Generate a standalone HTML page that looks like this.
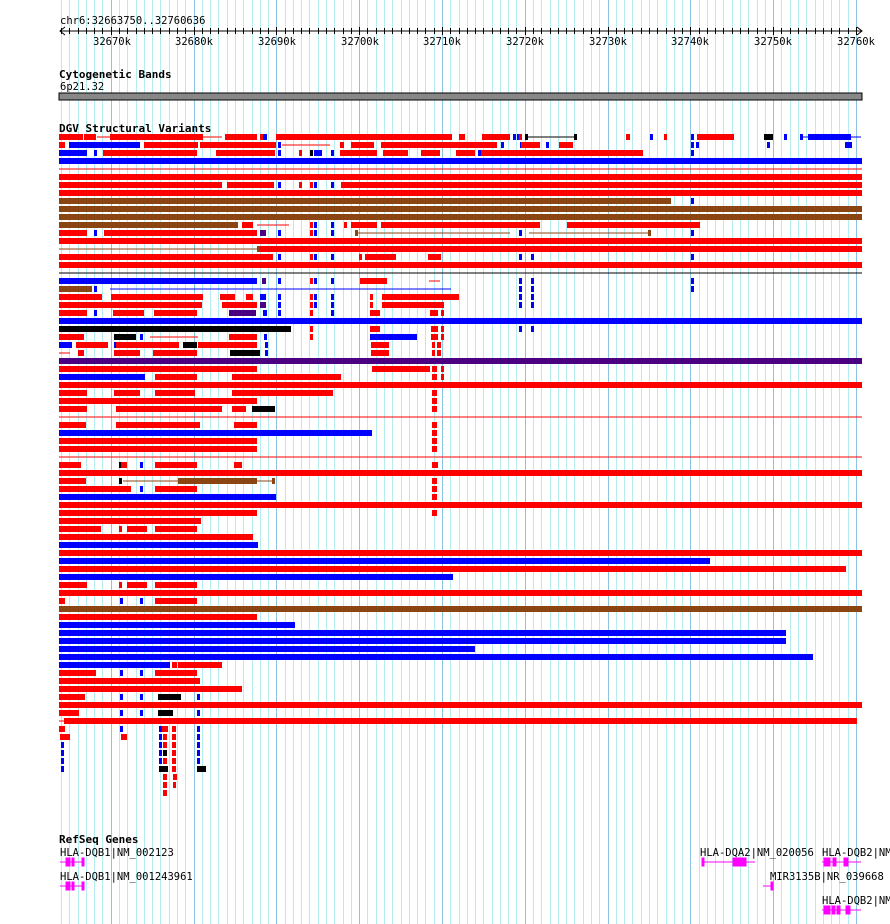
<!DOCTYPE html>
<html><head><meta charset="utf-8"><style>
html,body{margin:0;padding:0;background:#fff;}
svg{display:block;}
text{font-family:"DejaVu Sans Mono","Liberation Mono",monospace;font-size:10.5px;fill:#000;}
.b{font-weight:bold;font-size:11px;}
</style></head><body>
<svg id="s" width="890" height="924" xmlns="http://www.w3.org/2000/svg">
<g id="grid"></g>
<text x="60" y="24">chr6:32663750..32760636</text>
<line x1="60" y1="31" x2="862" y2="31" stroke="#000"/>
<polyline points="65,27 60,31 65,35" fill="none" stroke="#000"/>
<polyline points="857,27 862,31 857,35" fill="none" stroke="#000"/>
<g id="ticks"></g>
<text x="93" y="45">32670k</text><text x="175" y="45">32680k</text><text x="258" y="45">32690k</text><text x="341" y="45">32700k</text><text x="423" y="45">32710k</text><text x="506" y="45">32720k</text><text x="589" y="45">32730k</text><text x="671" y="45">32740k</text><text x="754" y="45">32750k</text><text x="837" y="45">32760k</text>
<text class="b" x="59" y="78">Cytogenetic Bands</text>
<text x="60" y="90">6p21.32</text>
<rect x="59" y="93" width="803" height="7" fill="#888" stroke="#000" stroke-width="1"/>
<text class="b" x="59" y="132">DGV Structural Variants</text>
<g id="sv"></g>
<text class="b" x="59" y="843">RefSeq Genes</text>
<text x="60" y="856">HLA-DQB1|NM_002123</text>
<text x="60" y="880">HLA-DQB1|NM_001243961</text>
<text x="700" y="856">HLA-DQA2|NM_020056</text>
<text x="822" y="856">HLA-DQB2|NM_</text>
<text x="770" y="880">MIR3135B|NR_039668</text>
<text x="822" y="904">HLA-DQB2|NM_</text>
<g fill="#f0f" stroke="#f0f">
<line x1="60" y1="862" x2="84" y2="862"/><rect x="66" y="858" width="4" height="8"/><rect x="72" y="858" width="2" height="8"/><rect x="82" y="858" width="2" height="8"/>
<line x1="60" y1="886" x2="84" y2="886"/><rect x="66" y="882" width="4" height="8"/><rect x="72" y="882" width="2" height="8"/><rect x="82" y="882" width="2" height="8"/>
<line x1="702" y1="862" x2="755" y2="862"/><rect x="702" y="858" width="2" height="8"/><rect x="733" y="858" width="4" height="8"/><rect x="738" y="858" width="8" height="8"/>
<line x1="822" y1="862" x2="861" y2="862"/><rect x="824" y="858" width="6" height="8"/><rect x="833" y="858" width="3" height="8"/><rect x="844" y="858" width="4" height="8"/>
<line x1="763" y1="886" x2="772" y2="886"/><rect x="771" y="882" width="2" height="8"/>
<line x1="822" y1="910" x2="861" y2="910"/><rect x="824" y="906" width="6" height="8"/><rect x="832" y="906" width="3" height="8"/><rect x="837" y="906" width="3" height="8"/><rect x="846" y="906" width="4" height="8"/>
</g>
</svg>
<script>
var NS="http://www.w3.org/2000/svg";
function el(p,t,a){var e=document.createElementNS(NS,t);for(var k in a)e.setAttribute(k,a[k]);p.appendChild(e);return e;}
var g=document.getElementById('grid'),tk=document.getElementById('ticks');
var px=8.28;
for(var i=0;i<=97;i++){var x=Math.round(59+(i*1000+250)*px/1000)+0.5;if(x>862)break;
 var major=((i+4)%10==0);
 el(g,'line',{x1:x,y1:0,x2:x,y2:924,stroke:major?'#8cc4e4':'#b4ecf0','stroke-width':1});
 el(tk,'line',{x1:x,y1:major?27:28,x2:x,y2:major?35:34,stroke:'#000'});}
var C={r:'#ff0000',b:'#0000ff',n:'#8b4513',k:'#000000',p:'#4b0082'};
var F='r59-862';
var rows=[
"r59-83 r84-96 lr97-110 r110-203 lr203-222 r225-257 r260 b263-267 r276-452 r459-465 r482-510 b513 b517 r519 lk525-575 k525 k574 r626-630 b650 r664 b691 r697-734 k764-773 b784 b800 lb802-861 b808-851",
"r59-65 b69-140 r144-198 r200-276 b278 lr282-330 r340-344 r351-374 r381-446 r440-497 b501 b520 r521-540 b546 r559-573 b691 b696 b767 b845-852",
"b59-87 b94 r103-197 r216-275 b278 r299 k310 b314-322 b331 r340-377 r383-408 r421-440 r456-475 b478 r481-643 b691",
"b59-862","lr59-862",F,
"r59-222 r227-274 b278 r299 r310 b314 b331 r341-862",F,
"n59-671 b691","n59-862","n59-862",
"n59-238 r242-253 lr257-289 r310 b314 b331 r344 r351-377 r381-540 r567-700",
"r59-87 b94 r104-257 p260-266 b278 r310 b314 b331 ln355-510 n355 b519 ln529-650 n648 b691",F,
"ln59-257 n257 r260-862",
"r59-273 b278 r310 b314 b331 r359 r365-396 r428-441 b519 b531 b691",F,
"lk59-862",
"b59-257 p262-266 b278 r310 b314 b331 r360-387 lr429-440 b519 b531 b691",
"n59-92 b94 lb110-451 b519 b531 b691",
"r59-102 r111-203 r220-235 r246-253 b260-266 b278 r310 b314 b331 r370 r382-459 b519 b531",
"r59-202 r222-257 p260-266 b278 r310 b314 b331 r370 r382-444 b519 b531",
"r59-87 b94 r113-144 r154-197 p229-256 b263-267 b278 r310 b331 r370-380 r430-438 r441",
"b59-862",
"k59-291 r310 r370-380 r431-438 r441 b519 b531",
"r59-84 k114-136 b140 lr150-198 r229-257 b264 r310 b370-417 r431-438 r441",
"b59-72 r76-108 b114 r116-179 k183-197 r198-257 b265 r371-389 r432 r437-441",
"lr59-70 r78-84 r114-140 r153-197 k230-260 b265 r371-389 r432 r437-441",
"p59-862",
"r59-257 r372-430 r432-437 r441",
"b59-145 r155-197 r232-341 r432-437 r441",F,
"r59-87 r114-140 r155-195 r232-333 r432-437",
"r59-257 r432-437",
"r59-87 r116-222 r232-246 k252-275 r432-437",
"lr59-862",
"r59-86 r116-123 r123-200 r234-257 r432-437",
"b59-372 r432-437","r59-257 r432-437","r59-257 r432-437",
"lr59-862",
"r59-78 r78 k119 r121-127 b140 r155-197 r234-242 r432-438",F,
"r59-86 k119 ln123-274 n178-257 n272 r432-437",
"r59-131 b140 r155-197 r432-437",
"b59-276 r432-437",F,
"r59-257 r432-437",
"r59-201",
"r59-101 r119 r127-147 r155-197",
"r59-253","b59-258",F,"b59-710","r59-846","b59-453",
"r59-87 r119 r127-147 r155-197",F,
"r59-65 b120 b140 r155-197",
"n59-862","r59-257","b59-295","b59-786","b59-786","b59-475","b59-813",
"b59-170 r172-177 r178-222",
"r59-96 b120 b140 r155-197",
"r59-200","r59-242",
"r59-85 b120 b140 k158-181 b197",F,
"r59-79 b120 b140 k158-173 b197",
"lr59-64 r64-857",
"r59-65 b120 b159 r162-168 r172-176 b197",
"r60-70 r121-127 b159 r163-167 r172-176 b197",
"b61 b159 r163-167 r172-176 b197",
"b61 b159 k163-167 r172-176 b197",
"b61 b159 r163-167 r172-176 b197",
"b61 k159-168 r172-176 k197-206",
"r163-167 r173-177","r163-167 r173-176","r163-167"];
var sv=document.getElementById('sv');
rows.forEach(function(r,k){var y=134+k*8;
 r.split(' ').forEach(function(t){var line=false;if(t[0]=='l'){line=true;t=t.slice(1);}
  var c=C[t[0]];var m=t.slice(1).split('-');var x1=+m[0],x2=m.length>1?+m[1]:x1+3;
  if(line)el(sv,'rect',{x:x1,y:y+2.5,width:x2-x1,height:1,fill:c});
  else el(sv,'rect',{x:x1,y:y,width:x2-x1,height:6,fill:c});});});
</script>
</body></html>
